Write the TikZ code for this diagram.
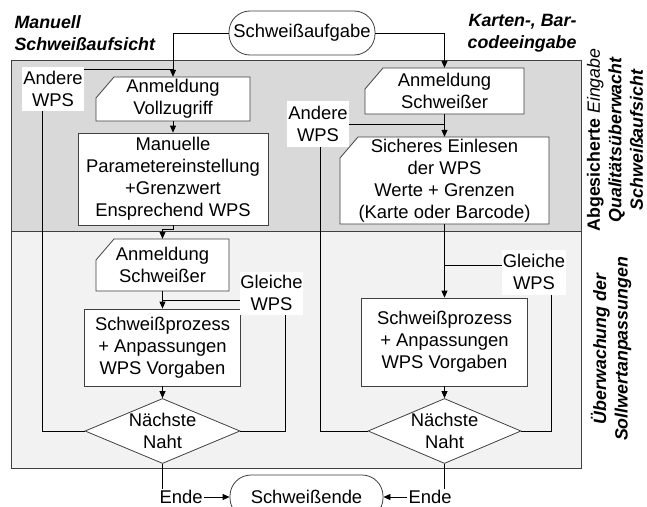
\documentclass[tikz,border=0pt]{standalone}
\usepackage{fontspec}
\setmainfont{Liberation Sans}
\usetikzlibrary{shapes.misc,shapes.geometric,arrows.meta,calc}
\definecolor{upgray}{HTML}{D9D9D9}
\definecolor{lowgray}{HTML}{F2F2F2}
\definecolor{edge}{HTML}{404040}
% card node: #1 name, #2 x, #3 y, #4 width, #5 height, #6 text
\newcommand{\cardnode}[6]{%
  \filldraw[draw=edge, fill=white, line width=0.8pt]
    ({#2-#4/2},{#3-#5/2+21}) -- ({#2-#4/2+18},{#3-#5/2}) -- ({#2+#4/2},{#3-#5/2})
    -- ({#2+#4/2},{#3+#5/2}) -- ({#2-#4/2},{#3+#5/2}) -- cycle;
  \node[txt, minimum width=#4pt, minimum height=#5pt, inner sep=0pt] (#1) at (#2,#3) {#6};}
\begin{document}
\begin{tikzpicture}[x=1pt,y=-1pt,
  txt/.style={font=\fontsize{18.4}{22}\selectfont, align=center, text=black},
  ttl/.style={font=\fontsize{17.8}{21.5}\selectfont\bfseries\itshape, text=black},
  box/.style={txt, draw=edge, fill=white, line width=0.8pt, inner sep=0pt},
  terminal/.style={box, rounded corners=21pt},
  dia/.style={draw=edge, fill=white, line width=0.8pt, diamond, inner sep=0pt},
  lbl/.style={txt, fill=white, inner sep=0pt},
  con/.style={draw=black, line width=0.8pt},
  arr/.style={-{Triangle[length=7pt,width=6pt]}}
]
\useasboundingbox (0,0) rectangle (647,506);
\clip (0,0) rectangle (647,506);
\fill[white] (0,0) rectangle (647,506);
\draw[edge, fill=upgray, line width=0.8pt] (11,60) rectangle (581,231);
\draw[edge, fill=lowgray, line width=0.8pt] (11,231) rectangle (581,468);

% titles
\node[ttl, anchor=west, align=left] (tL) at (11,33) {Manuell\\Schweißaufsicht};
\node[ttl, anchor=east, align=right] (tR) at (580,33) {Karten-, Bar-\\codeeingabe};
\node[ttl, rotate=90, align=center] (rU) at (615,140) {{\upshape Abgesicherte} {\mdseries Eingabe}\\Qualitätsüberwacht\\Schweißaufsicht};
\node[ttl, rotate=90, align=center] (rL) at (611,349) {Überwachung der\\Sollwertanpassungen};

% main nodes
\node[terminal, minimum width=146pt, minimum height=44pt] (start) at (302,33) {Schweißaufgabe};
\cardnode{vz}{173}{99}{154}{44}{Anmeldung\\Vollzugriff}
\node[box, minimum width=190pt, minimum height=92pt] (man) at (173,179) {Manuelle\\Parametereinstellung\\+Grenzwert\\Ensprechend WPS};
\cardnode{swL}{162.5}{265}{133}{52}{Anmeldung\\Schweißer}
\node[box, minimum width=156pt, minimum height=77pt] (prL) at (162.5,347.5) {Schweißprozess\\+ Anpassungen\\WPS Vorgaben};
\node[dia, minimum width=155pt, minimum height=65pt] (dL) at (162.5,431) {};
\node[txt] (dLt) at (dL) {Nächste\\Naht};

\cardnode{swR}{444.5}{91}{159}{46}{Anmeldung\\Schweißer}
\cardnode{sich}{444.5}{180.5}{209}{87}{Sicheres Einlesen\\der WPS\\Werte + Grenzen\\(Karte oder Barcode)}
\node[box, minimum width=166pt, minimum height=88pt] (prR) at (444.5,342) {Schweißprozess\\+ Anpassungen\\WPS Vorgaben};
\node[dia, minimum width=153pt, minimum height=65pt] (dR) at (444.5,431) {};
\node[txt] (dRt) at (dR) {Nächste\\Naht};

\node[terminal, minimum width=153pt, minimum height=44pt] (end) at (306.5,497) {Schweißende};

% labels
\node[lbl, minimum width=62pt, minimum height=44pt] (aL) at (53,89) {Andere\\WPS};
\node[lbl, minimum width=62pt, minimum height=46pt] (aR) at (318,124) {Andere\\WPS};
\node[lbl, minimum width=63pt, minimum height=43pt] (gL) at (271.5,293) {Gleiche\\WPS};
\node[lbl, minimum width=64pt, minimum height=45pt] (gR) at (534,272) {Gleiche\\WPS};
\node[txt, inner sep=1pt] (eL) at (181,497) {Ende};
\node[txt, inner sep=1pt] (eR) at (430,497) {Ende};

% left connectors
\draw[con, arr] (start.west) -| (vz.north);
\coordinate (aLp) at ([yshift=-3pt]aL.north east);
\draw[con] (aLp) -- (aLp -| vz.north);
\draw[con, arr] (vz.south) -- (man.north);
\draw[con, arr] (man.south) -- ++(0,4) -| (swL.north);
\draw[con, arr] (swL.south) -- (prL.north);
\coordinate (gLp) at ([yshift=-7pt]gL.west);
\draw[con] (gLp) -- (gLp -| swL.south);
\draw[con, arr] (prL.south) -- (dL.north);
\draw[con] (dL.east) -| ([xshift=13.5pt]gL.south);
\draw[con] (dL.west) -| ([xshift=-11pt]aL.south);
\draw[con] (dL.south) -- (dL.south |- eL.north);
\draw[con, arr] (eL.east) -- (end.west);

% right connectors
\draw[con, arr] (start.east) -| (swR.north);
\draw[con, arr] (swR.south) -- (sich.north);
\draw[con] (aR.east) -- (aR.east -| swR.south);
\draw[con, arr] (sich.south) -- (prR.north);
\coordinate (gRp) at ([yshift=7pt]gR.west);
\draw[con] (gRp) -- (gRp -| sich.south);
\draw[con, arr] (prR.south) -- (dR.north);
\draw[con] (dR.east) -| ([xshift=17pt]gR.south);
\draw[con] (dR.west) -| ([xshift=2pt]aR.south);
\draw[con] (dR.south) -- (dR.south |- eR.north);
\draw[con, arr] (eR.west) -- (end.east);
\end{tikzpicture}
\end{document}
